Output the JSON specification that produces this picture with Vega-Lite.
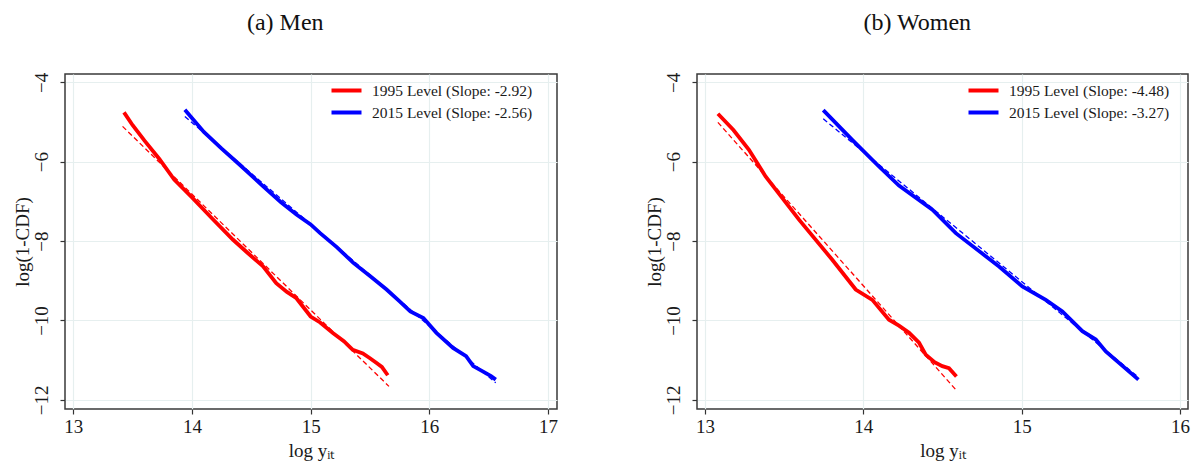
{
  "$schema": "https://vega.github.io/schema/vega-lite/v6.json",
  "background": "white",
  "padding": {"left": 12, "top": 10, "right": 2, "bottom": 2},
  "datasets": {
    "men": [
      {"x": 13.427, "y": -4.756, "s": "1995 Level (Slope: -2.92)"},
      {"x": 13.50, "y": -5.08, "s": "1995 Level (Slope: -2.92)"},
      {"x": 13.60, "y": -5.47, "s": "1995 Level (Slope: -2.92)"},
      {"x": 13.725, "y": -5.93, "s": "1995 Level (Slope: -2.92)"},
      {"x": 13.85, "y": -6.45, "s": "1995 Level (Slope: -2.92)"},
      {"x": 14.0, "y": -6.90, "s": "1995 Level (Slope: -2.92)"},
      {"x": 14.17, "y": -7.43, "s": "1995 Level (Slope: -2.92)"},
      {"x": 14.344, "y": -7.96, "s": "1995 Level (Slope: -2.92)"},
      {"x": 14.47, "y": -8.30, "s": "1995 Level (Slope: -2.92)"},
      {"x": 14.597, "y": -8.63, "s": "1995 Level (Slope: -2.92)"},
      {"x": 14.71, "y": -9.06, "s": "1995 Level (Slope: -2.92)"},
      {"x": 14.80, "y": -9.28, "s": "1995 Level (Slope: -2.92)"},
      {"x": 14.88, "y": -9.44, "s": "1995 Level (Slope: -2.92)"},
      {"x": 15.0, "y": -9.90, "s": "1995 Level (Slope: -2.92)"},
      {"x": 15.08, "y": -10.05, "s": "1995 Level (Slope: -2.92)"},
      {"x": 15.19, "y": -10.32, "s": "1995 Level (Slope: -2.92)"},
      {"x": 15.28, "y": -10.52, "s": "1995 Level (Slope: -2.92)"},
      {"x": 15.355, "y": -10.74, "s": "1995 Level (Slope: -2.92)"},
      {"x": 15.44, "y": -10.83, "s": "1995 Level (Slope: -2.92)"},
      {"x": 15.50, "y": -10.95, "s": "1995 Level (Slope: -2.92)"},
      {"x": 15.55, "y": -11.06, "s": "1995 Level (Slope: -2.92)"},
      {"x": 15.60, "y": -11.17, "s": "1995 Level (Slope: -2.92)"},
      {"x": 15.65, "y": -11.38, "s": "1995 Level (Slope: -2.92)"},
      {"x": 13.94, "y": -4.69, "s": "2015 Level (Slope: -2.56)"},
      {"x": 14.10, "y": -5.25, "s": "2015 Level (Slope: -2.56)"},
      {"x": 14.25, "y": -5.67, "s": "2015 Level (Slope: -2.56)"},
      {"x": 14.40, "y": -6.07, "s": "2015 Level (Slope: -2.56)"},
      {"x": 14.60, "y": -6.62, "s": "2015 Level (Slope: -2.56)"},
      {"x": 14.75, "y": -7.02, "s": "2015 Level (Slope: -2.56)"},
      {"x": 14.88, "y": -7.33, "s": "2015 Level (Slope: -2.56)"},
      {"x": 15.0, "y": -7.58, "s": "2015 Level (Slope: -2.56)"},
      {"x": 15.08, "y": -7.80, "s": "2015 Level (Slope: -2.56)"},
      {"x": 15.22, "y": -8.15, "s": "2015 Level (Slope: -2.56)"},
      {"x": 15.36, "y": -8.55, "s": "2015 Level (Slope: -2.56)"},
      {"x": 15.50, "y": -8.88, "s": "2015 Level (Slope: -2.56)"},
      {"x": 15.64, "y": -9.22, "s": "2015 Level (Slope: -2.56)"},
      {"x": 15.75, "y": -9.52, "s": "2015 Level (Slope: -2.56)"},
      {"x": 15.84, "y": -9.77, "s": "2015 Level (Slope: -2.56)"},
      {"x": 15.95, "y": -9.94, "s": "2015 Level (Slope: -2.56)"},
      {"x": 16.06, "y": -10.31, "s": "2015 Level (Slope: -2.56)"},
      {"x": 16.20, "y": -10.69, "s": "2015 Level (Slope: -2.56)"},
      {"x": 16.31, "y": -10.90, "s": "2015 Level (Slope: -2.56)"},
      {"x": 16.37, "y": -11.15, "s": "2015 Level (Slope: -2.56)"},
      {"x": 16.45, "y": -11.28, "s": "2015 Level (Slope: -2.56)"},
      {"x": 16.52, "y": -11.40, "s": "2015 Level (Slope: -2.56)"},
      {"x": 16.56, "y": -11.49, "s": "2015 Level (Slope: -2.56)"}
    ],
    "menfit": [
      {"x": 13.415, "y": -5.11, "s": "1995 Level (Slope: -2.92)"},
      {"x": 15.66, "y": -11.66, "s": "1995 Level (Slope: -2.92)"},
      {"x": 13.94, "y": -4.86, "s": "2015 Level (Slope: -2.56)"},
      {"x": 16.56, "y": -11.57, "s": "2015 Level (Slope: -2.56)"}
    ],
    "women": [
      {"x": 13.082, "y": -4.79, "s": "1995 Level (Slope: -4.48)"},
      {"x": 13.18, "y": -5.20, "s": "1995 Level (Slope: -4.48)"},
      {"x": 13.278, "y": -5.70, "s": "1995 Level (Slope: -4.48)"},
      {"x": 13.383, "y": -6.37, "s": "1995 Level (Slope: -4.48)"},
      {"x": 13.594, "y": -7.46, "s": "1995 Level (Slope: -4.48)"},
      {"x": 13.804, "y": -8.47, "s": "1995 Level (Slope: -4.48)"},
      {"x": 13.952, "y": -9.22, "s": "1995 Level (Slope: -4.48)"},
      {"x": 14.057, "y": -9.48, "s": "1995 Level (Slope: -4.48)"},
      {"x": 14.162, "y": -9.98, "s": "1995 Level (Slope: -4.48)"},
      {"x": 14.225, "y": -10.13, "s": "1995 Level (Slope: -4.48)"},
      {"x": 14.289, "y": -10.31, "s": "1995 Level (Slope: -4.48)"},
      {"x": 14.352, "y": -10.56, "s": "1995 Level (Slope: -4.48)"},
      {"x": 14.394, "y": -10.86, "s": "1995 Level (Slope: -4.48)"},
      {"x": 14.45, "y": -11.05, "s": "1995 Level (Slope: -4.48)"},
      {"x": 14.499, "y": -11.15, "s": "1995 Level (Slope: -4.48)"},
      {"x": 14.541, "y": -11.20, "s": "1995 Level (Slope: -4.48)"},
      {"x": 14.588, "y": -11.41, "s": "1995 Level (Slope: -4.48)"},
      {"x": 13.747, "y": -4.70, "s": "2015 Level (Slope: -3.27)"},
      {"x": 13.93, "y": -5.45, "s": "2015 Level (Slope: -3.27)"},
      {"x": 14.099, "y": -6.12, "s": "2015 Level (Slope: -3.27)"},
      {"x": 14.225, "y": -6.60, "s": "2015 Level (Slope: -3.27)"},
      {"x": 14.436, "y": -7.21, "s": "2015 Level (Slope: -3.27)"},
      {"x": 14.584, "y": -7.80, "s": "2015 Level (Slope: -3.27)"},
      {"x": 14.773, "y": -8.38, "s": "2015 Level (Slope: -3.27)"},
      {"x": 14.857, "y": -8.64, "s": "2015 Level (Slope: -3.27)"},
      {"x": 15.004, "y": -9.14, "s": "2015 Level (Slope: -3.27)"},
      {"x": 15.152, "y": -9.48, "s": "2015 Level (Slope: -3.27)"},
      {"x": 15.257, "y": -9.77, "s": "2015 Level (Slope: -3.27)"},
      {"x": 15.383, "y": -10.27, "s": "2015 Level (Slope: -3.27)"},
      {"x": 15.468, "y": -10.48, "s": "2015 Level (Slope: -3.27)"},
      {"x": 15.531, "y": -10.78, "s": "2015 Level (Slope: -3.27)"},
      {"x": 15.737, "y": -11.49, "s": "2015 Level (Slope: -3.27)"}
    ],
    "womenfit": [
      {"x": 13.082, "y": -5.01, "s": "1995 Level (Slope: -4.48)"},
      {"x": 14.588, "y": -11.76, "s": "1995 Level (Slope: -4.48)"},
      {"x": 13.747, "y": -4.92, "s": "2015 Level (Slope: -3.27)"},
      {"x": 15.737, "y": -11.43, "s": "2015 Level (Slope: -3.27)"}
    ]
  },
  "hconcat": [
    {
      "title": {"text": "(a) Men"},
      "width": 492,
      "height": 335,
      "layer": [
        {
          "data": {"name": "men"},
          "mark": {"type": "line", "strokeWidth": 3.8},
          "encoding": {
            "x": {"field": "x", "type": "quantitative", "scale": {"domain": [12.93, 17.076], "zero": false, "nice": false}, "axis": {"values": [13, 14, 15, 16, 17], "format": "d", "title": "log yᵢₜ"}},
            "y": {"field": "y", "type": "quantitative", "scale": {"domain": [-12.23, -3.79], "zero": false, "nice": false}, "axis": {"values": [-4, -6, -8, -10, -12], "format": "d", "title": "log(1-CDF)"}},
            "color": {"field": "s", "type": "nominal", "scale": {"domain": ["1995 Level (Slope: -2.92)", "2015 Level (Slope: -2.56)"], "range": ["#ff0000", "#0000ff"]}, "legend": {"title": null, "orient": "none", "legendX": 272, "legendY": 7}}
          }
        },
        {
          "data": {"name": "menfit"},
          "mark": {"type": "line", "strokeWidth": 1.3, "strokeDash": [5, 3]},
          "encoding": {
            "x": {"field": "x", "type": "quantitative"},
            "y": {"field": "y", "type": "quantitative"},
            "color": {"field": "s", "type": "nominal"}
          }
        }
      ]
    },
    {
      "title": {"text": "(b) Women"},
      "width": 491,
      "height": 335,
      "layer": [
        {
          "data": {"name": "women"},
          "mark": {"type": "line", "strokeWidth": 3.8},
          "encoding": {
            "x": {"field": "x", "type": "quantitative", "scale": {"domain": [12.95, 16.05], "zero": false, "nice": false}, "axis": {"values": [13, 14, 15, 16], "format": "d", "title": "log yᵢₜ"}},
            "y": {"field": "y", "type": "quantitative", "scale": {"domain": [-12.23, -3.79], "zero": false, "nice": false}, "axis": {"values": [-4, -6, -8, -10, -12], "format": "d", "title": "log(1-CDF)"}},
            "color": {"field": "s", "type": "nominal", "scale": {"domain": ["1995 Level (Slope: -4.48)", "2015 Level (Slope: -3.27)"], "range": ["#ff0000", "#0000ff"]}, "legend": {"title": null, "orient": "none", "legendX": 277, "legendY": 7}}
          }
        },
        {
          "data": {"name": "womenfit"},
          "mark": {"type": "line", "strokeWidth": 1.3, "strokeDash": [5, 3]},
          "encoding": {
            "x": {"field": "x", "type": "quantitative"},
            "y": {"field": "y", "type": "quantitative"},
            "color": {"field": "s", "type": "nominal"}
          }
        }
      ]
    }
  ],
  "spacing": 85,
  "resolve": {"scale": {"color": "independent", "x": "independent", "y": "independent"}, "legend": {"color": "independent"}},
  "config": {
    "font": "Liberation Serif",
    "view": {"stroke": "#3a3a3a", "strokeWidth": 1.5},
    "axis": {
      "grid": true, "gridColor": "#e6efef", "gridWidth": 1.2, "domain": false,
      "tickColor": "#333333", "tickSize": 5, "tickWidth": 1.2,
      "labelFont": "Liberation Serif", "titleFont": "Liberation Serif",
      "labelFontSize": 19, "titleFontSize": 19, "titleFontWeight": "normal",
      "labelColor": "#1a1a1a", "titleColor": "#1a1a1a"
    },
    "axisX": {"labelPadding": 3, "titlePadding": 5},
    "axisY": {"labelAngle": -90, "labelAlign": "center", "labelBaseline": "bottom", "labelPadding": 9, "titlePadding": 0},
    "legend": {
      "padding": 0,
      "symbolType": "M-2,0L2,0", "symbolSize": 225, "symbolStrokeWidth": 4,
      "labelFont": "Liberation Serif", "labelFontSize": 15.5, "labelColor": "#1a1a1a",
      "labelOffset": 16, "rowPadding": 4, "labelLimit": 400
    },
    "title": {"font": "Liberation Serif", "fontSize": 24, "fontWeight": "normal", "color": "#111111", "anchor": "middle", "frame": "bounds", "offset": 37}
  }
}
